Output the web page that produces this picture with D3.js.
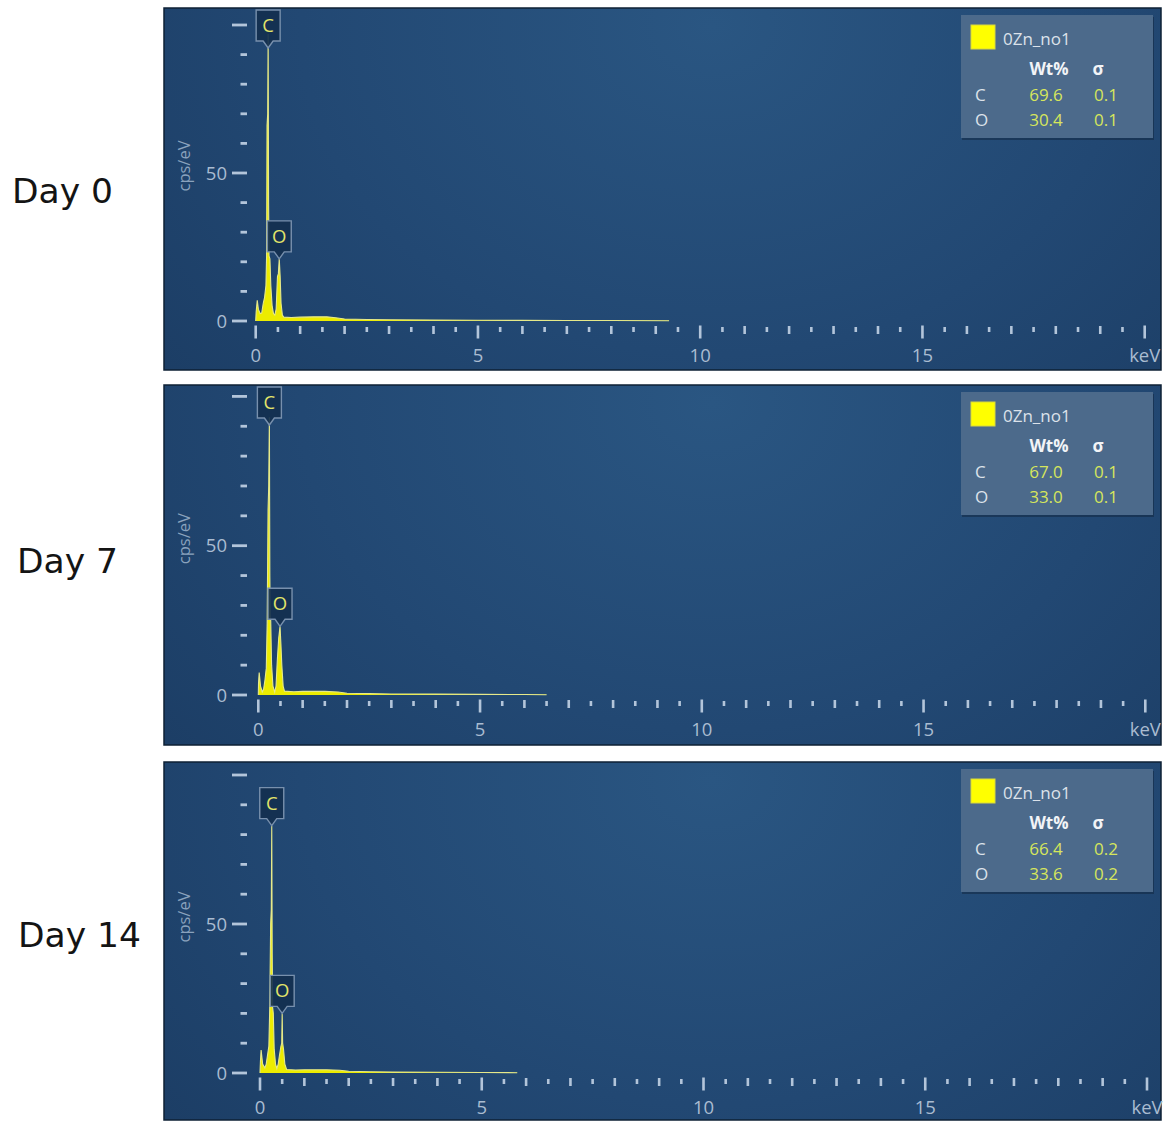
<!DOCTYPE html>
<html>
<head>
<meta charset="utf-8">
<script src="https://cdn.jsdelivr.net/npm/d3@7"></script>
<style>
  html, body { margin: 0; padding: 0; background: #ffffff; }
  svg { display: block; }
</style>
</head>
<body>
<svg id="chart" width="1168" height="1122"></svg>
<script>
// ---- EDS spectra: [energy keV, counts cps/eV] ----
const day0Spectrum = [
  [0.00, 0], [0.01, 3], [0.035, 7], [0.06, 4], [0.10, 2.5], [0.135, 2.7], [0.17, 6], [0.20, 8],
  [0.23, 12], [0.245, 22], [0.255, 66], [0.27, 70], [0.28, 97], [0.29, 40], [0.30, 22], [0.32, 21],
  [0.34, 12], [0.37, 5], [0.40, 2.5], [0.43, 2], [0.46, 4], [0.49, 15], [0.51, 16], [0.53, 21],
  [0.55, 15], [0.57, 6], [0.60, 2], [0.63, 1.3], [0.8, 1.2], [1.0, 1.3], [1.3, 1.4], [1.6, 1.4],
  [1.8, 1.1], [2.0, 0.7], [2.5, 0.5], [3.0, 0.4], [4.0, 0.3], [5.0, 0.25], [6.0, 0.2], [7.0, 0.18],
  [8.0, 0.15], [9.3, 0.1]
];
const day7Spectrum = [
  [0.00, 0], [0.005, 4], [0.02, 7.5], [0.05, 3], [0.09, 1], [0.12, 2], [0.15, 5], [0.18, 9],
  [0.20, 24], [0.22, 62], [0.235, 70], [0.25, 93], [0.26, 40], [0.27, 26], [0.28, 25], [0.30, 10],
  [0.33, 3], [0.37, 1], [0.40, 3], [0.43, 12], [0.46, 19], [0.49, 23], [0.51, 17], [0.53, 10],
  [0.56, 3], [0.59, 1.3], [0.8, 1.1], [1.0, 1.2], [1.5, 1.2], [1.8, 1.0], [2.0, 0.6], [2.5, 0.45],
  [3.0, 0.35], [4.0, 0.3], [5.0, 0.22], [6.0, 0.15], [6.5, 0.1]
];
const day14Spectrum = [
  [0.00, 0], [0.01, 4], [0.025, 7.7], [0.06, 3], [0.11, 1.7], [0.14, 3], [0.17, 6], [0.20, 9],
  [0.22, 22], [0.24, 50], [0.255, 55], [0.265, 83], [0.275, 40], [0.285, 22], [0.30, 20], [0.32, 8],
  [0.35, 3], [0.38, 1.5], [0.41, 3], [0.44, 6], [0.47, 8.8], [0.49, 10], [0.50, 20], [0.51, 10],
  [0.53, 8], [0.56, 3], [0.60, 1.2], [0.8, 1.0], [1.0, 1.1], [1.5, 1.1], [1.8, 0.9], [2.0, 0.6],
  [2.5, 0.4], [3.0, 0.3], [4.0, 0.25], [5.0, 0.18], [5.8, 0.1]
];

// ---- labels and quantification ----
const dayLabels = ["Day 0", "Day 7", "Day 14"];
const sampleName = "0Zn_no1";
const elements = ["C", "O"];
const peakEnergies = [[0.28, 0.53], [0.25, 0.49], [0.265, 0.50]];
const wtPercent = [["69.6", "30.4"], ["67.0", "33.0"], ["66.4", "33.6"]];
const sigma = [["0.1", "0.1"], ["0.1", "0.1"], ["0.2", "0.2"]];
const xTickLabels = ["0", "5", "10", "15", "keV"];
const yTickLabels = ["0", "50"];
const spectra = [day0Spectrum, day7Spectrum, day14Spectrum];

// ---- layout of the three spectrum windows ----
const panels = [
  { top: 8,   bottom: 370,  x0: 255.7, x20: 1144.7, y0: 321,  y50: 173,   labelX: 12, labelY: 203 },
  { top: 385, bottom: 745,  x0: 258.3, x20: 1145.3, y0: 695,  y50: 545.7, labelX: 17, labelY: 573 },
  { top: 762, bottom: 1120, x0: 260,   x20: 1147,   y0: 1073, y50: 924,   labelX: 18, labelY: 947 }
];
const frameLeft = 164, frameRight = 1161;

const svg = d3.select("#chart");
const defs = svg.append("defs");

const bg = defs.append("radialGradient")
  .attr("id", "panelBg").attr("cx", "0.55").attr("cy", "0.05").attr("r", "0.75")
  .attr("gradientTransform", "translate(0.55,0.05) scale(1,2.2) translate(-0.55,-0.05)");
bg.append("stop").attr("offset", "0").attr("stop-color", "#2a5682");
bg.append("stop").attr("offset", "0.55").attr("stop-color", "#224873");
bg.append("stop").attr("offset", "1").attr("stop-color", "#1b3c63");

const tickColor = "#b3c5da";
const labelColor = "#aabcd1";
const uiFont = "'Open Sans', 'Noto Sans', sans-serif";

panels.forEach((p, i) => {
  const g = svg.append("g");
  const x = d3.scaleLinear().domain([0, 20]).range([p.x0, p.x20]);
  const y = d3.scaleLinear().domain([0, 50]).range([p.y0, p.y50]);

  // day caption
  svg.append("text")
    .attr("x", p.labelX).attr("y", p.labelY)
    .attr("font-family", "'DejaVu Sans', Verdana, sans-serif")
    .attr("font-size", 34.5).attr("fill", "#141414")
    .text(dayLabels[i]);

  // window background
  g.append("rect")
    .attr("x", frameLeft).attr("y", p.top)
    .attr("width", frameRight - frameLeft).attr("height", p.bottom - p.top)
    .attr("fill", "url(#panelBg)")
    .attr("stroke", "#0e2135").attr("stroke-width", 1.5);

  const clipId = "clip" + i;
  defs.append("clipPath").attr("id", clipId).append("rect")
    .attr("x", frameLeft + 1).attr("y", p.top + 1)
    .attr("width", frameRight - frameLeft - 2).attr("height", p.bottom - p.top - 2);

  // y ticks: majors every 50, minors every 10
  const yTicks = d3.range(0, 101, 10);
  g.selectAll(".yt").data(yTicks).join("rect")
    .attr("x", d => d % 50 === 0 ? 232 : 240.5)
    .attr("y", d => y(d) - 1.4)
    .attr("width", d => d % 50 === 0 ? 15 : 6.5)
    .attr("height", 2.8)
    .attr("fill", tickColor);
  g.selectAll(".yl").data(yTickLabels).join("text")
    .attr("x", 227).attr("y", d => y(+d) + 6.5)
    .attr("text-anchor", "end")
    .attr("font-family", uiFont).attr("font-size", 18.5)
    .attr("fill", labelColor).text(d => d);
  g.append("text")
    .attr("transform", `translate(190,${p.y50 - 7}) rotate(-90)`)
    .attr("text-anchor", "middle")
    .attr("font-family", uiFont).attr("font-size", 16.5)
    .attr("fill", "#8aa2bd").text("cps/eV");

  // x ticks every 0.5 keV
  const xTicks = d3.range(0, 40.5, 1).map(k => k / 2);
  g.selectAll(".xt").data(xTicks).join("rect")
    .attr("x", d => x(d) - 1.3)
    .attr("y", d => p.y0 + (d % 5 === 0 ? 4.5 : d % 1 === 0 ? 5 : 6))
    .attr("width", 2.6)
    .attr("height", d => d % 5 === 0 ? 13 : d % 1 === 0 ? 8 : 5)
    .attr("fill", tickColor);
  g.selectAll(".xl").data(xTickLabels).join("text")
    .attr("x", (d, k) => x(k * 5)).attr("y", p.y0 + 41)
    .attr("text-anchor", "middle")
    .attr("font-family", uiFont).attr("font-size", 18.5)
    .attr("fill", labelColor).text(d => d);

  // spectrum
  const data = spectra[i];
  const area = d3.area().x(d => x(d[0])).y0(y(0)).y1(d => y(d[1]));
  const line = d3.line().x(d => x(d[0])).y(d => y(d[1]));
  const sg = g.append("g").attr("clip-path", `url(#${clipId})`);
  sg.append("path").datum(data).attr("d", area).attr("fill", "#ecec00");
  sg.append("path").datum(data).attr("d", line)
    .attr("fill", "none").attr("stroke", "#e6e98a").attr("stroke-width", 1.1);

  // element markers anchored on each peak top
  elements.forEach((el, k) => {
    const e = peakEnergies[i][k];
    const near = data.filter(d => Math.abs(d[0] - e) <= 0.03);
    const top = d3.max(near, d => d[1]);
    const bw = 24, bh = 31, tip = 7;
    const cx = x(e);
    let tipY = y(top);
    if (tipY - tip - bh < p.top + 2) tipY = p.top + 2 + bh + tip;
    const bt = tipY - tip - bh;
    const path = `M${cx - bw / 2},${bt} H${cx + bw / 2} V${bt + bh} H${cx + 5} L${cx},${tipY} L${cx - 5},${bt + bh} H${cx - bw / 2} Z`;
    g.append("path").attr("d", path)
      .attr("fill", "#14304f").attr("fill-opacity", 0.92)
      .attr("stroke", "#7890ad").attr("stroke-width", 1.4);
    g.append("text")
      .attr("x", cx).attr("y", bt + bh / 2 + 6.5)
      .attr("text-anchor", "middle")
      .attr("font-family", uiFont).attr("font-size", 18.5)
      .attr("fill", "#e2e46a").text(el);
  });

  // quantification legend
  const lx = 961, ly = p.top + 7;
  const lg = g.append("g");
  lg.append("rect").attr("x", lx + 1).attr("y", ly + 2).attr("width", 192).attr("height", 123)
    .attr("fill", "#10243c").attr("opacity", 0.5);
  lg.append("rect").attr("x", lx).attr("y", ly).attr("width", 192).attr("height", 123)
    .attr("fill", "#4c6a8b");
  lg.append("rect").attr("x", lx + 10).attr("y", ly + 10).attr("width", 24).attr("height", 24)
    .attr("fill", "#ffff00").attr("stroke", "#d8d840").attr("stroke-width", 1);
  lg.append("text").attr("x", lx + 42).attr("y", ly + 30)
    .attr("font-family", uiFont).attr("font-size", 17).attr("fill", "#dce2ea").text(sampleName);
  lg.append("text").attr("x", lx + 88).attr("y", ly + 60).attr("text-anchor", "middle")
    .attr("font-family", uiFont).attr("font-size", 17).attr("font-weight", "bold")
    .attr("fill", "#f2f4f7").text("Wt%");
  lg.append("text").attr("x", lx + 137).attr("y", ly + 60).attr("text-anchor", "middle")
    .attr("font-family", uiFont).attr("font-size", 17).attr("font-weight", "bold")
    .attr("fill", "#f2f4f7").text("σ");
  elements.forEach((el, k) => {
    const by = ly + 86 + k * 25;
    lg.append("text").attr("x", lx + 14).attr("y", by)
      .attr("font-family", uiFont).attr("font-size", 17).attr("fill", "#dce2ea").text(el);
    lg.append("text").attr("x", lx + 85).attr("y", by).attr("text-anchor", "middle")
      .attr("font-family", uiFont).attr("font-size", 17).attr("fill", "#d6e65c").text(wtPercent[i][k]);
    lg.append("text").attr("x", lx + 145).attr("y", by).attr("text-anchor", "middle")
      .attr("font-family", uiFont).attr("font-size", 17).attr("fill", "#d6e65c").text(sigma[i][k]);
  });
});
</script>
</body>
</html>
